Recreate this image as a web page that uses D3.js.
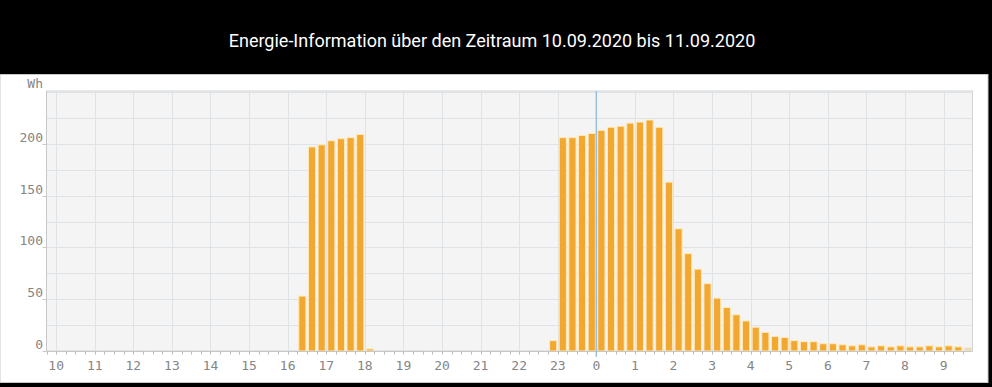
<!DOCTYPE html>
<html>
<head>
<meta charset="utf-8">
<script src="https://cdn.jsdelivr.net/npm/d3@7"></script>
<style>
  html, body { margin: 0; padding: 0; background: #000; }
  svg { display: block; }
</style>
</head>
<body>
<div id="chart"></div>
<script>
const width = 992;
const height = 387;

// Zeitraum und Werte (15-Minuten-Intervalle)
const titleText = "Energie-Information über den Zeitraum 10.09.2020 bis 11.09.2020";
const rangeStart = "2020-09-10 09:45";
const rangeEnd = "2020-09-11 09:45";
const nightLine = "2020-09-11 00:00";

const slotTimes = [
  "2020-09-10 16:15", "2020-09-10 16:30", "2020-09-10 16:45", "2020-09-10 17:00",
  "2020-09-10 17:15", "2020-09-10 17:30", "2020-09-10 17:45", "2020-09-10 18:00",
  "2020-09-10 22:45", "2020-09-10 23:00", "2020-09-10 23:15", "2020-09-10 23:30",
  "2020-09-10 23:45", "2020-09-11 00:00", "2020-09-11 00:15", "2020-09-11 00:30",
  "2020-09-11 00:45", "2020-09-11 01:00", "2020-09-11 01:15", "2020-09-11 01:30",
  "2020-09-11 01:45", "2020-09-11 02:00", "2020-09-11 02:15", "2020-09-11 02:30",
  "2020-09-11 02:45", "2020-09-11 03:00", "2020-09-11 03:15", "2020-09-11 03:30",
  "2020-09-11 03:45", "2020-09-11 04:00", "2020-09-11 04:15", "2020-09-11 04:30",
  "2020-09-11 04:45", "2020-09-11 05:00", "2020-09-11 05:15", "2020-09-11 05:30",
  "2020-09-11 05:45", "2020-09-11 06:00", "2020-09-11 06:15", "2020-09-11 06:30",
  "2020-09-11 06:45", "2020-09-11 07:00", "2020-09-11 07:15", "2020-09-11 07:30",
  "2020-09-11 07:45", "2020-09-11 08:00", "2020-09-11 08:15", "2020-09-11 08:30",
  "2020-09-11 08:45", "2020-09-11 09:00", "2020-09-11 09:15", "2020-09-11 09:30"
];
const energyWh = [
  53, 197, 199, 203, 205, 206, 209, 2,
  10, 206, 206, 208, 210, 213, 216, 217,
  220, 221, 223, 216, 163, 118, 94, 79,
  65, 51, 42, 35, 29, 23, 18, 14,
  13, 10, 9, 9, 7, 7, 6, 5,
  6, 4, 5, 4, 5, 4, 4, 5,
  4, 5, 4, 3
];
// letztes Intervall ist noch nicht abgeschlossen
const openSlot = "2020-09-11 09:30";

const yTicks = [0, 50, 100, 150, 200];
const yGrid = [25, 50, 75, 100, 125, 150, 175, 200, 225, 250];
const yMax = 251;

const parse = d3.timeParse("%Y-%m-%d %H:%M");
let data = slotTimes.map((t, i) => ({ t: parse(t), key: t, v: energyWh[i] }));

const plotLeft = 46.5, plotRight = 972.5, plotTop = 91, plotBottom = 351;

let svg = d3.select("#chart").append("svg")
    .attr("width", width)
    .attr("height", height);

// Kopfzeile
svg.append("rect").attr("x", 0).attr("y", 0).attr("width", width).attr("height", height).attr("fill", "#000");
svg.append("rect")
    .attr("x", 0).attr("y", 74.5)
    .attr("width", 988).attr("height", 308)
    .attr("fill", "#fff")
    .attr("stroke", "#c8c8c8");

svg.append("text")
    .attr("x", 492)
    .attr("y", 47)
    .attr("text-anchor", "middle")
    .attr("fill", "#fff")
    .style("font-family", "Roboto, sans-serif")
    .style("font-size", "18px")
    .text(titleText);

let xScale = d3.scaleTime()
    .domain([parse(rangeStart), parse(rangeEnd)])
    .range([plotLeft, plotRight]);

let yScale = d3.scaleLinear()
    .domain([0, yMax])
    .range([plotBottom, plotTop]);

// Plotfläche
svg.append("rect")
    .attr("x", plotLeft).attr("y", plotTop)
    .attr("width", plotRight - plotLeft).attr("height", plotBottom - plotTop)
    .attr("fill", "#f4f4f4")
    .attr("stroke", "#d4d4d4");

const hours = d3.timeHour.range(parse(rangeStart), parse(rangeEnd));
const quarters = d3.timeMinute.every(15).range(parse(rangeStart), parse(rangeEnd));

svg.append("g")
    .selectAll("line")
    .data(hours)
    .join("line")
    .attr("x1", d => Math.round(xScale(d)) + 0.5)
    .attr("x2", d => Math.round(xScale(d)) + 0.5)
    .attr("y1", plotTop)
    .attr("y2", plotBottom)
    .attr("stroke", "#dde3e7");

svg.append("g")
    .selectAll("line")
    .data(yGrid)
    .join("line")
    .attr("x1", plotLeft)
    .attr("x2", plotRight)
    .attr("y1", d => Math.round(yScale(d)) + 0.5)
    .attr("y2", d => Math.round(yScale(d)) + 0.5)
    .attr("stroke", "#dde3e7");

// Balken
const slotW = xScale(parse("2020-09-10 10:15")) - xScale(parse("2020-09-10 10:00"));
svg.append("g")
    .selectAll("rect")
    .data(data)
    .join("rect")
    .attr("x", d => xScale(d.t) + 1.5)
    .attr("width", slotW - 2.5)
    .attr("y", d => yScale(d.v))
    .attr("height", d => plotBottom - yScale(d.v))
    .attr("fill", d => d.key === openSlot ? "#ead6b4" : "#f2a731")
    .attr("stroke", d => d.key === openSlot ? "#f4e8d2" : "#ffe9b8")
    .attr("stroke-width", 1);

// Achsen
const axisFont = "'DejaVu Sans Mono', monospace";
let xAxis = svg.append("g").attr("transform", `translate(0,${plotBottom + 0.5})`);
xAxis.append("line").attr("x1", plotLeft).attr("x2", plotRight).attr("stroke", "#c8c8c8");
xAxis.selectAll("line.tick")
    .data(quarters)
    .join("line")
    .attr("class", "tick")
    .attr("x1", d => Math.round(xScale(d)) + 0.5)
    .attr("x2", d => Math.round(xScale(d)) + 0.5)
    .attr("y1", 0)
    .attr("y2", 3)
    .attr("stroke", "#bbbbbb");
xAxis.selectAll("text")
    .data(hours)
    .join("text")
    .attr("x", d => xScale(d))
    .attr("y", 18)
    .attr("text-anchor", "middle")
    .attr("fill", "#858585")
    .style("font-family", axisFont)
    .style("font-size", "13px")
    .text(d3.timeFormat("%-H"));

let yAxis = svg.append("g");
yAxis.append("line").attr("x1", plotLeft).attr("x2", plotLeft).attr("y1", plotTop).attr("y2", plotBottom).attr("stroke", "#c8c8c8");
yAxis.selectAll("line.tick")
    .data(yTicks)
    .join("line")
    .attr("class", "tick")
    .attr("x1", plotLeft - 4)
    .attr("x2", plotLeft)
    .attr("y1", d => Math.round(yScale(d)) + 0.5)
    .attr("y2", d => Math.round(yScale(d)) + 0.5)
    .attr("stroke", "#c8c8c8");
yAxis.selectAll("text")
    .data(yTicks)
    .join("text")
    .attr("x", 43)
    .attr("y", d => yScale(d) - 2)
    .attr("text-anchor", "end")
    .attr("fill", "#858585")
    .style("font-family", axisFont)
    .style("font-size", "13px")
    .text(d => d);
yAxis.append("text")
    .attr("x", 43)
    .attr("y", 88)
    .attr("text-anchor", "end")
    .attr("fill", "#858585")
    .style("font-family", axisFont)
    .style("font-size", "13px")
    .text("Wh");

// Tageswechsel
svg.append("line")
    .attr("x1", xScale(parse(nightLine)))
    .attr("x2", xScale(parse(nightLine)))
    .attr("y1", plotTop)
    .attr("y2", plotBottom + 6)
    .attr("stroke", "#8cb8e0")
    .attr("stroke-opacity", 0.85)
    .attr("stroke-width", 1.5);
</script>
</body>
</html>
